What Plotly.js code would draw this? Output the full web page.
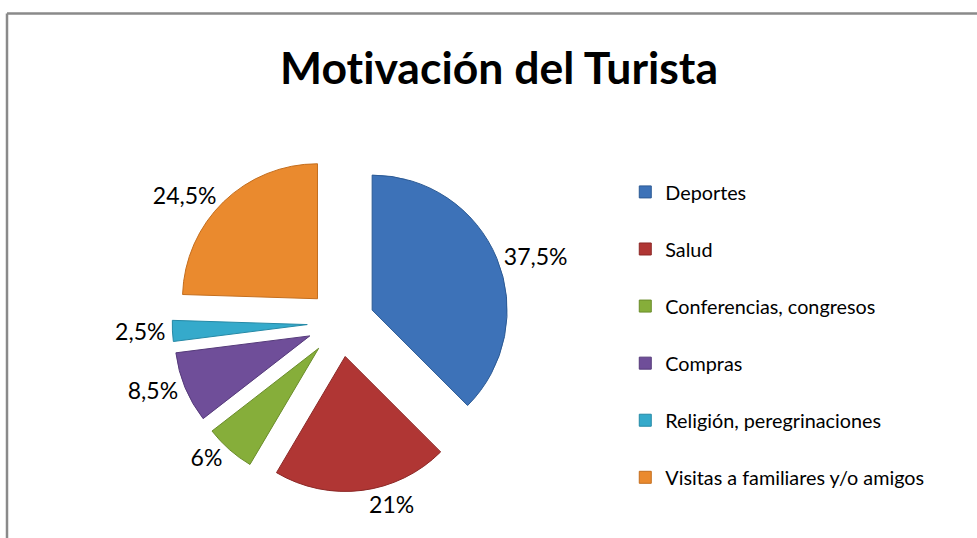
<!DOCTYPE html>
<html>
<head>
<meta charset="utf-8">
<script src="https://cdn.plot.ly/plotly-3.0.1.min.js"></script>
<style>
  html, body { margin: 0; padding: 0; background: #ffffff; }
  #chart { width: 977px; height: 538px; }
  svg text { font-variant-ligatures: none; font-feature-settings: "liga" 0, "clig" 0; }
</style>
</head>
<body>
<div id="chart"></div>
<script>
// ---- data ----
const categories = [
  "Deportes",
  "Salud",
  "Conferencias, congresos",
  "Compras",
  "Religión, peregrinaciones",
  "Visitas a familiares y/o amigos"
];
const values = [37.5, 21, 6, 8.5, 2.5, 24.5];
const colors = ["#3D72B8", "#B03634", "#86AE3A", "#6F4E99", "#35AACB", "#EA8A2E"];
const edgeColors = ["#2C5A94", "#8C2826", "#6A8C2A", "#553A7A", "#2589A6", "#C46E1E"];
const titleText = "Motivación del Turista";

// ---- build ----
const pctLabels = values.map(v => String(v).replace(".", ",") + "%");
const legendLabels = categories.map(c => '<span style="font-size:19.8px">' + c + "</span><br> ");

const trace = {
  type: "pie",
  labels: legendLabels,
  values: values,
  text: pctLabels,
  textinfo: "text",
  textposition: "outside",
  sort: false,
  direction: "clockwise",
  rotation: 0,
  pull: values.map(() => 0.25),
  marker: { colors: colors, line: { color: edgeColors, width: 1 } },
  outsidetextfont: { family: "Lato, 'Open Sans', sans-serif", size: 23, color: "#000000" },
  domain: { x: [0.1763, 0.5217], y: [0.0860, 0.7133] },
  hoverinfo: "label+text"
};

const layout = {
  width: 977,
  height: 538,
  margin: { l: 0, r: 0, t: 0, b: 0 },
  paper_bgcolor: "#ffffff",
  plot_bgcolor: "#ffffff",
  title: {
    text: "<b>" + titleText + "</b>",
    x: 0.5108, xanchor: "center",
    y: 0.872, yanchor: "middle",
    font: { family: "Lato, 'Open Sans', sans-serif", size: 44.5, color: "#000000" }
  },
  showlegend: true,
  legend: {
    x: 0.640, xanchor: "left",
    y: 0.6805, yanchor: "top",
    valign: "top",
    bgcolor: "rgba(0,0,0,0)",
    font: { family: "Lato, 'Open Sans', sans-serif", size: 20.8, color: "#000000" },
    itemclick: false, itemdoubleclick: false
  },
  shapes: [
    { type: "line", xref: "paper", yref: "paper", x0: 7/977, x1: 1.01, y0: 1 - 13.5/538, y1: 1 - 13.5/538,
      line: { color: "#8a8a8a", width: 2.5 } },
    { type: "line", xref: "paper", yref: "paper", x0: 7/977, x1: 7/977, y0: -0.01, y1: 1 - 13.5/538,
      line: { color: "#8a8a8a", width: 2.5 } }
  ]
};

Plotly.newPlot("chart", [trace], layout, { displayModeBar: false, staticPlot: true });
</script>
</body>
</html>
